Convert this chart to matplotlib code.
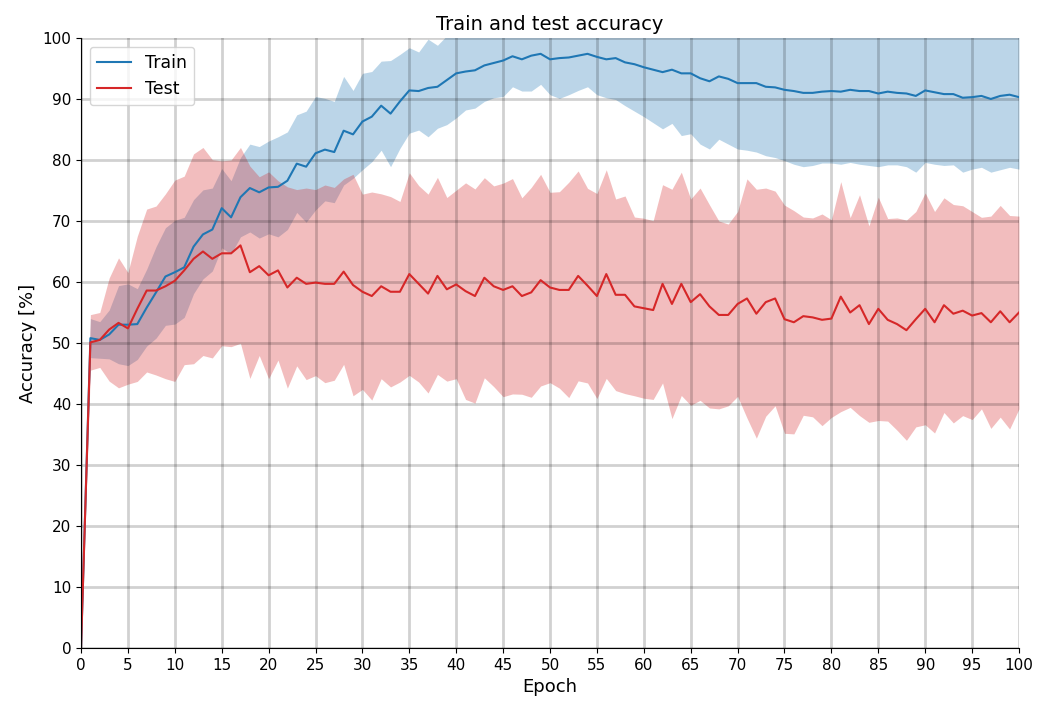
import numpy as np
import matplotlib
matplotlib.use("Agg")
from matplotlib import pyplot as plt

# data (mean and std per epoch)
epochs = np.arange(0, 101)

train_mean = [0, 50.8, 50.5, 51.4, 53.0, 53.0, 53.1, 55.8, 58.3, 60.9,
              61.6, 62.4, 65.8, 67.8, 68.6, 72.1, 70.6, 73.9, 75.4, 74.7,
              75.5, 75.6, 76.6, 79.4, 78.9, 81.1, 81.7, 81.3, 84.8, 84.2,
              86.3, 87.1, 88.9, 87.6, 89.6, 91.4, 91.3, 91.8, 92.0, 93.1,
              94.2, 94.5, 94.7, 95.5, 95.9, 96.3, 97.0, 96.5, 97.1, 97.4,
              96.5, 96.7, 96.8, 97.1, 97.4, 96.9, 96.5, 96.7, 96.0, 95.7,
              95.2, 94.8, 94.4, 94.8, 94.2, 94.2, 93.4, 92.9, 93.7, 93.3,
              92.6, 92.6, 92.6, 92.0, 91.9, 91.5, 91.3, 91.0, 91.0, 91.2,
              91.3, 91.2, 91.5, 91.3, 91.3, 90.9, 91.2, 91.0, 90.9, 90.5,
              91.4, 91.1, 90.8, 90.8, 90.2, 90.3, 90.5, 90.0, 90.5, 90.7,
              90.3]
train_std = [0, 3.2, 3.0, 4.0, 6.4, 6.7, 5.8, 6.3, 7.5, 8.0,
             8.5, 8.2, 7.7, 7.3, 6.8, 6.5, 6.0, 6.5, 7.2, 7.5,
             7.6, 8.2, 8.0, 8.0, 9.1, 9.3, 8.4, 8.3, 8.9, 7.2,
             7.9, 7.4, 7.3, 8.7, 7.7, 7.0, 6.4, 8.0, 6.8, 7.3,
             7.3, 6.3, 6.2, 5.9, 5.7, 5.9, 5.0, 5.2, 5.8, 5.0,
             5.8, 6.6, 6.1, 5.7, 5.4, 6.2, 6.3, 6.8, 7.1, 7.7,
             8.1, 8.7, 9.3, 8.8, 10.2, 9.9, 10.8, 11.1, 10.3, 10.7,
             10.8, 11.0, 11.3, 11.3, 11.5, 11.6, 12.0, 12.1, 11.9, 11.7,
             11.8, 11.9, 11.9, 12.0, 12.2, 12.0, 12.0, 11.8, 12.0, 12.5,
             11.8, 11.8, 11.7, 11.6, 12.2, 11.8, 11.7, 12.0, 12.1, 11.9,
             11.8]

test_mean = [0, 50.1, 50.5, 52.2, 53.3, 52.4, 55.6, 58.6, 58.6, 59.3,
             60.2, 61.9, 63.8, 65.0, 63.8, 64.7, 64.7, 66.0, 61.6, 62.6,
             61.1, 61.9, 59.1, 60.7, 59.7, 59.9, 59.7, 59.7, 61.7, 59.5,
             58.4, 57.7, 59.3, 58.4, 58.4, 61.3, 59.7, 58.1, 61.0, 58.8,
             59.6, 58.5, 57.7, 60.7, 59.3, 58.7, 59.3, 57.7, 58.3, 60.3,
             59.1, 58.7, 58.7, 61.0, 59.4, 57.7, 61.3, 57.9, 57.9, 56.0,
             55.7, 55.4, 59.7, 56.4, 59.7, 56.7, 58.0, 56.0, 54.6, 54.6,
             56.4, 57.3, 54.8, 56.7, 57.3, 53.9, 53.4, 54.4, 54.2, 53.8,
             54.0, 57.6, 55.0, 56.2, 53.1, 55.6, 53.8, 53.1, 52.1, 53.9,
             55.6, 53.4, 56.2, 54.8, 55.3, 54.5, 54.9, 53.4, 55.2, 53.4,
             55.0]
test_std = [0, 4.55, 4.5, 8.45, 10.65, 9.15, 11.9, 13.35, 13.85, 15.15,
            16.5, 15.45, 17.2, 17.05, 16.25, 15.15, 15.3, 16.05, 17.4, 14.65,
            16.95, 14.7, 16.5, 14.45, 15.7, 15.25, 16.2, 15.8, 15.2, 18.15,
            16.0, 17.05, 15.15, 15.6, 14.8, 16.6, 16.1, 16.3, 16.15, 15.05,
            15.45, 17.75, 17.55, 16.4, 16.45, 17.5, 17.65, 16.1, 17.2, 17.35,
            15.6, 16.1, 17.65, 17.2, 15.95, 16.8, 17.1, 15.7, 16.2, 14.65,
            14.75, 14.65, 16.25, 18.8, 18.3, 16.9, 17.4, 16.65, 15.4, 14.9,
            15.15, 19.6, 20.4, 18.7, 17.6, 18.7, 18.3, 16.25, 16.3, 17.35,
            16.2, 18.85, 15.55, 18.1, 16.1, 18.3, 16.6, 17.4, 18.05, 17.65,
            19.0, 18.15, 17.6, 17.9, 17.2, 17.05, 15.7, 17.4, 17.35, 17.5,
            15.8]

train_mean = np.array(train_mean)
train_std = np.array(train_std)
test_mean = np.array(test_mean)
test_std = np.array(test_std)

#plot
fig = plt.figure(figsize=(10.4, 7.07), dpi=100)
ax = fig.add_axes([0.0779, 0.0834, 0.9019, 0.8629])

ax.plot(epochs, train_mean, color="tab:blue", lw=1.5, label="Train")
ax.fill_between(epochs, train_mean - train_std, train_mean + train_std,
                color="tab:blue", alpha=0.3, lw=0)
ax.plot(epochs, test_mean, color="tab:red", lw=1.5, label="Test")
ax.fill_between(epochs, test_mean - test_std, test_mean + test_std,
                color="tab:red", alpha=0.3, lw=0)

ax.set_xlim(0, 100)
ax.set_ylim(0, 100)
ax.set_xticks(np.arange(0, 101, 5))
ax.set_yticks(np.arange(0, 101, 10))
ax.grid(True, color="black", alpha=0.18, lw=2)
ax.spines["top"].set_visible(False)
ax.spines["right"].set_visible(False)
ax.tick_params(labelsize=11)
ax.set_xlabel("Epoch", fontsize=13)
ax.set_ylabel("Accuracy [%]", fontsize=13)
ax.set_title("Train and test accuracy", fontsize=14)
ax.legend(loc="upper left", fontsize=12.5)

fig.savefig("out.png", dpi=100)
